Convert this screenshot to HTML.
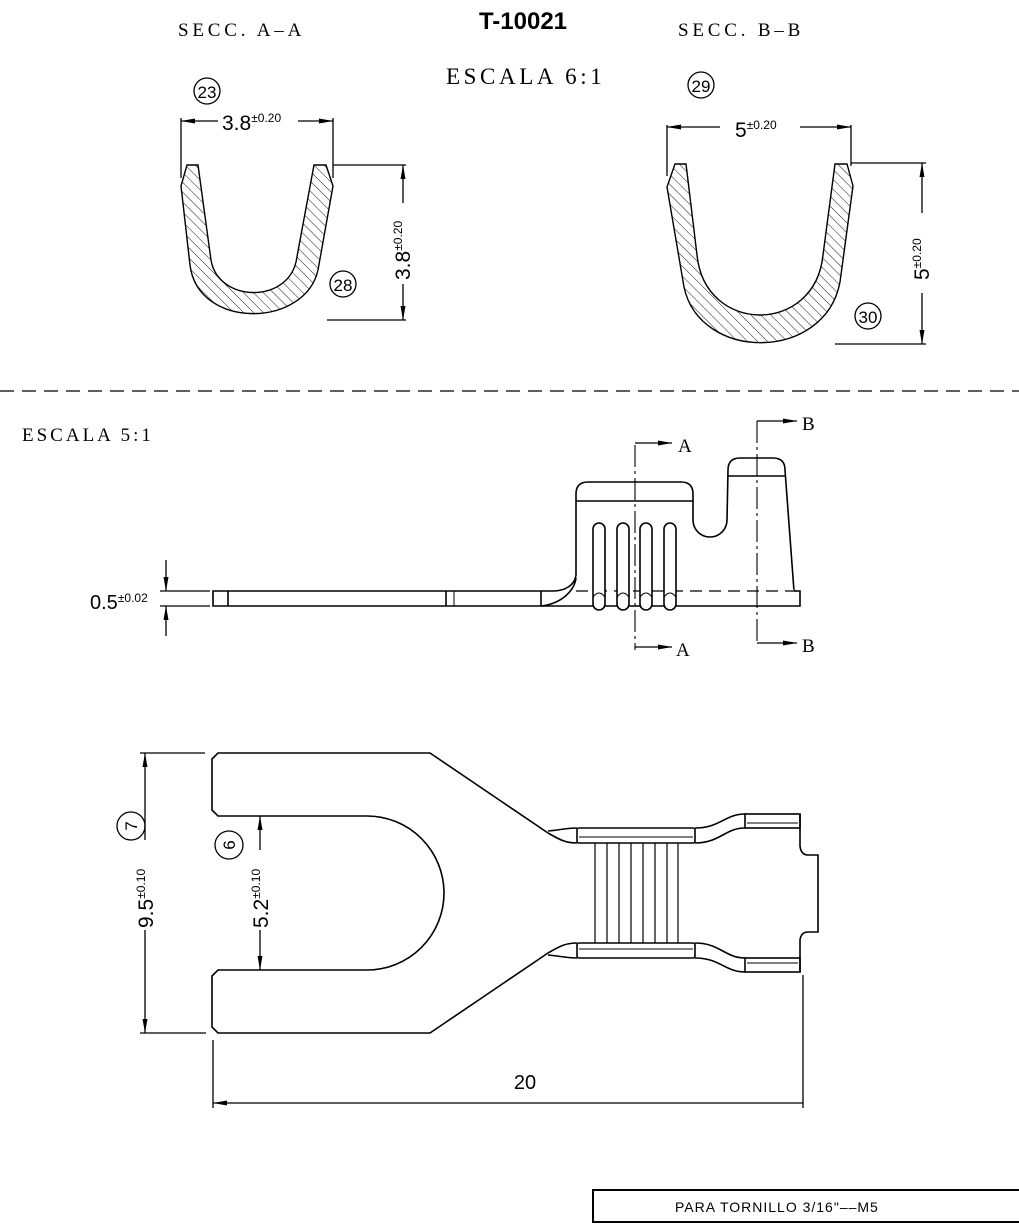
<!DOCTYPE html>
<html><head><meta charset="utf-8"><style>
html,body{margin:0;padding:0;background:#fff;}
svg{display:block;}
.s{font-family:"Liberation Serif",serif;}
.a{font-family:"Liberation Sans",sans-serif;}
</style></head><body>
<svg width="1019" height="1224" viewBox="0 0 1019 1224" xmlns="http://www.w3.org/2000/svg" fill="none" stroke="#000" stroke-width="1.3">
<defs>
<pattern id="h" width="7" height="7" patternUnits="userSpaceOnUse" patternTransform="rotate(-45)">
<line x1="0" y1="0" x2="0" y2="7" stroke="#000" stroke-width="0.9"/>
</pattern>
<marker id="ar" markerWidth="14" markerHeight="6" refX="14" refY="3" orient="auto-start-reverse" markerUnits="userSpaceOnUse">
<path d="M0,0.5 L14,3 L0,5.5 Z" fill="#000" stroke="none"/>
</marker>
</defs>

<!-- Titles -->
<text x="523" y="29" text-anchor="middle" font-family="Liberation Sans,sans-serif" font-weight="bold" font-size="24" fill="#000" stroke="none">T-10021</text>
<text x="178" y="36" class="s" font-size="19" fill="#000" stroke="none" letter-spacing="3.8">SECC. A–A</text>
<text x="678" y="36" class="s" font-size="19" fill="#000" stroke="none" letter-spacing="3.8">SECC. B–B</text>
<text x="446" y="84" class="s" font-size="23" fill="#000" stroke="none" letter-spacing="3.6">ESCALA 6:1</text>

<!-- Section A-A -->
<path d="M187,165 L198,165 L211,260 C218,302 286,304 296,262 L314,165 L326,165 L333,186 L318,270 C305,328 198,330 190,265 L181,186 Z" fill="url(#h)" stroke-width="1.4"/>
<line x1="181" y1="118" x2="181" y2="178"/>
<line x1="333" y1="118" x2="333" y2="178"/>
<line x1="218" y1="121" x2="181" y2="121" marker-end="url(#ar)"/>
<line x1="298" y1="121" x2="333" y2="121" marker-end="url(#ar)"/>
<text x="222" y="130" class="a" font-size="21" fill="#000" stroke="none">3.8<tspan font-size="12" dy="-8">±0.20</tspan></text>
<line x1="333" y1="165" x2="406" y2="165"/>
<line x1="327" y1="320" x2="406" y2="320"/>
<line x1="403" y1="203" x2="403" y2="165" marker-end="url(#ar)"/>
<line x1="403" y1="284" x2="403" y2="320" marker-end="url(#ar)"/>
<text transform="translate(410,280) rotate(-90)" class="a" font-size="21" fill="#000" stroke="none">3.8<tspan font-size="12" dy="-8">±0.20</tspan></text>
<circle cx="207" cy="91" r="13"/>
<text x="207" y="98" text-anchor="middle" class="a" font-size="17" fill="#000" stroke="none">23</text>
<circle cx="343" cy="284" r="13"/>
<text x="343" y="291" text-anchor="middle" class="a" font-size="17" fill="#000" stroke="none">28</text>

<!-- Section B-B -->
<path d="M675,164 L686,164 L697,255 C705,335 815,335 823,255 L835,164 L847,164 L853,186 L840,282 C825,362 700,362 684,287 L667,187 Z" fill="url(#h)" stroke-width="1.4"/>
<line x1="667" y1="125" x2="667" y2="176"/>
<line x1="851" y1="125" x2="851" y2="166"/>
<line x1="720" y1="127" x2="667" y2="127" marker-end="url(#ar)"/>
<line x1="800" y1="127" x2="851" y2="127" marker-end="url(#ar)"/>
<text x="735" y="137" class="a" font-size="21" fill="#000" stroke="none">5<tspan font-size="12" dy="-8">±0.20</tspan></text>
<line x1="851" y1="163" x2="926" y2="163"/>
<line x1="835" y1="344" x2="926" y2="344"/>
<line x1="922" y1="213" x2="922" y2="163" marker-end="url(#ar)"/>
<line x1="922" y1="293" x2="922" y2="344" marker-end="url(#ar)"/>
<text transform="translate(929,280) rotate(-90)" class="a" font-size="21" fill="#000" stroke="none">5<tspan font-size="12" dy="-8">±0.20</tspan></text>
<circle cx="701" cy="85" r="13"/>
<text x="701" y="92" text-anchor="middle" class="a" font-size="17" fill="#000" stroke="none">29</text>
<circle cx="868" cy="316" r="13"/>
<text x="868" y="323" text-anchor="middle" class="a" font-size="17" fill="#000" stroke="none">30</text>

<!-- Divider -->
<line x1="0" y1="391" x2="1019" y2="391" stroke-dasharray="14,8" stroke-width="1.2"/>

<text x="22" y="441" class="s" font-size="19" fill="#000" stroke="none" letter-spacing="3">ESCALA 5:1</text>

<!-- Side view -->
<g stroke-width="1.6">
<path d="M213,591 L553,591 C565,591 575,585 576,575 L576,494 Q576,482 588,482 L681,482 Q693,482 693,494 L693,520 A17,17 0 0 0 727,520 L728,470 Q728,458 740,458 L773,458 Q785,458 785,470 L794,591 L800,591 L800,606 L213,606 Z"/>
<path d="M541,606 C560,604 574,592 576,578"/>
<line x1="541" y1="591" x2="541" y2="606"/>
<line x1="228" y1="591" x2="228" y2="606"/>
<line x1="446" y1="591" x2="446" y2="606"/>
<line x1="454" y1="591" x2="454" y2="606" stroke-width="1"/>
<line x1="576" y1="501" x2="693" y2="501"/>
<line x1="728" y1="476" x2="785" y2="476"/>
<line x1="576" y1="591" x2="794" y2="591" stroke="#fff" stroke-width="2.5"/>
<line x1="576" y1="591" x2="800" y2="591" stroke-dasharray="12,7" stroke-width="1.2"/>
<g fill="#fff">
<rect x="593" y="523" width="12" height="87" rx="6"/>
<rect x="617" y="523" width="12" height="87" rx="6"/>
<rect x="640" y="523" width="12" height="87" rx="6"/>
<rect x="664" y="523" width="12" height="87" rx="6"/>
</g>
<path d="M593,597 Q599,589 605,597 M617,597 Q623,589 629,597 M640,597 Q646,589 652,597 M664,597 Q670,589 676,597" stroke-width="1.1"/>
</g>
<!-- Section lines -->
<line x1="635" y1="445" x2="635" y2="650" stroke-dasharray="22,4,3,4" stroke-width="1.1"/>
<line x1="635" y1="443" x2="672" y2="443" marker-end="url(#ar)"/>
<line x1="635" y1="647" x2="672" y2="647" marker-end="url(#ar)"/>
<text x="678" y="452" class="s" font-size="19" fill="#000" stroke="none">A</text>
<text x="676" y="656" class="s" font-size="19" fill="#000" stroke="none">A</text>
<line x1="757" y1="421" x2="757" y2="645" stroke-dasharray="22,4,3,4" stroke-width="1.1"/>
<line x1="757" y1="421" x2="797" y2="421" marker-end="url(#ar)"/>
<line x1="757" y1="643" x2="797" y2="643" marker-end="url(#ar)"/>
<text x="802" y="430" class="s" font-size="19" fill="#000" stroke="none">B</text>
<text x="802" y="652" class="s" font-size="19" fill="#000" stroke="none">B</text>

<!-- 0.5 dim -->
<line x1="160" y1="591" x2="210" y2="591"/>
<line x1="160" y1="606" x2="210" y2="606"/>
<line x1="166" y1="560" x2="166" y2="591" marker-end="url(#ar)"/>
<line x1="166" y1="636" x2="166" y2="606" marker-end="url(#ar)"/>
<text x="90" y="609" class="a" font-size="20" fill="#000" stroke="none">0.5<tspan font-size="12" dy="-7">±0.02</tspan></text>

<!-- Bottom view -->
<g stroke-width="1.6">
<path d="M548,833 L430,753 L218,753 L212,759 L212,810 L218,816 L367,816 A77,77 0 0 1 367,970 L218,970 L212,976 L212,1027 L218,1033 L430,1033 L548,953"/>
<path d="M548,831 C560,830 566,828 577,828 M548,833 C560,840 566,843 577,843"/>
<path d="M548,955 C560,956 566,958 577,958 M548,953 C560,946 566,943 577,943"/>
<rect x="577" y="828" width="118" height="15" rx="2"/>
<line x1="579" y1="837" x2="693" y2="837" stroke-width="1.1"/>
<rect x="577" y="943" width="118" height="15" rx="2"/>
<line x1="579" y1="949" x2="693" y2="949" stroke-width="1.1"/>
<path d="M695,828 C720,828 725,814 745,814 M695,843 C720,843 725,828 745,828"/>
<path d="M695,958 C720,958 725,972 745,972 M695,943 C720,943 725,958 745,958"/>
<rect x="745" y="814" width="55" height="14"/>
<line x1="747" y1="823" x2="798" y2="823" stroke-width="1.1"/>
<rect x="745" y="958" width="55" height="14"/>
<line x1="747" y1="963" x2="798" y2="963" stroke-width="1.1"/>
<path d="M800,814 L800,846 Q801,855 808,855 L818,855 L818,932 L808,932 Q801,932 800,940 L800,972"/>
</g>
<g stroke-width="1.2">
<line x1="595" y1="843" x2="595" y2="943"/>
<line x1="607" y1="843" x2="607" y2="943"/>
<line x1="619" y1="843" x2="619" y2="943"/>
<line x1="631" y1="843" x2="631" y2="943"/>
<line x1="643" y1="843" x2="643" y2="943"/>
<line x1="655" y1="843" x2="655" y2="943"/>
<line x1="667" y1="843" x2="667" y2="943"/>
<line x1="678" y1="843" x2="678" y2="943"/>
</g>

<!-- 9.5 dim -->
<line x1="140" y1="753" x2="205" y2="753"/>
<line x1="140" y1="1033" x2="206" y2="1033"/>
<line x1="145" y1="840" x2="145" y2="753" marker-end="url(#ar)"/>
<line x1="145" y1="930" x2="145" y2="1033" marker-end="url(#ar)"/>
<text transform="translate(153,928) rotate(-90)" class="a" font-size="21" fill="#000" stroke="none">9.5<tspan font-size="12" dy="-8">±0.10</tspan></text>
<circle cx="131" cy="826" r="14"/>
<text transform="translate(137,826) rotate(-90)" text-anchor="middle" class="a" font-size="17" fill="#000" stroke="none">7</text>
<!-- 5.2 dim -->
<line x1="260" y1="850" x2="260" y2="816" marker-end="url(#ar)"/>
<line x1="260" y1="930" x2="260" y2="970" marker-end="url(#ar)"/>
<text transform="translate(268,928) rotate(-90)" class="a" font-size="21" fill="#000" stroke="none">5.2<tspan font-size="12" dy="-8">±0.10</tspan></text>
<circle cx="229" cy="845" r="14"/>
<text transform="translate(235,845) rotate(-90)" text-anchor="middle" class="a" font-size="17" fill="#000" stroke="none">6</text>

<!-- 20 dim -->
<line x1="213" y1="1040" x2="213" y2="1108"/>
<line x1="803" y1="975" x2="803" y2="1108"/>
<line x1="803" y1="1103" x2="213" y2="1103" marker-end="url(#ar)"/>
<text x="525" y="1089" text-anchor="middle" class="a" font-size="20" fill="#000" stroke="none">20</text>

<!-- Note box -->
<rect x="593" y="1190" width="430" height="32" stroke-width="2"/>
<text x="675" y="1212" class="a" font-size="14" fill="#000" stroke="none" letter-spacing="1">PARA TORNILLO 3/16"––M5</text>
</svg>
</body></html>
